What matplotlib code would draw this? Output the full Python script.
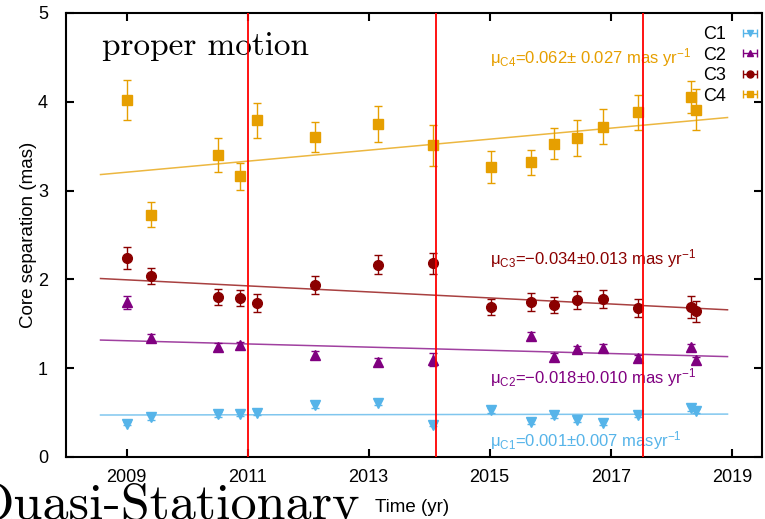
import numpy as np
import matplotlib
matplotlib.use("Agg")
import matplotlib.pyplot as plt
from matplotlib.legend_handler import HandlerErrorbar
from matplotlib.container import ErrorbarContainer

plt.rcParams['font.family'] = 'Liberation Sans'
plt.rcParams['mathtext.default'] = 'regular'

# observing epochs (yr)
epochs = [2009.01, 2009.41, 2010.51, 2010.87, 2011.15, 2012.11, 2013.15, 2014.07,
          2015.03, 2015.69, 2016.06, 2016.45, 2016.88, 2017.45, 2018.32, 2018.41]
c2_epochs = [2009.01, 2009.41, 2010.51, 2010.87, 2012.11, 2013.15, 2014.07,
             2015.69, 2016.06, 2016.45, 2016.88, 2017.45, 2018.32, 2018.41]

# core separations (mas) and errors
c1 = [0.375, 0.447, 0.48, 0.488, 0.495, 0.58, 0.61, 0.364,
      0.525, 0.394, 0.469, 0.417, 0.386, 0.469, 0.548, 0.52]
c1_err = [0.02, 0.03, 0.025, 0.025, 0.025, 0.03, 0.03, 0.02,
          0.025, 0.025, 0.025, 0.025, 0.025, 0.02, 0.025, 0.025]
c2 = [1.74, 1.337, 1.242, 1.258, 1.149, 1.07, 1.096,
      1.366, 1.13, 1.213, 1.23, 1.115, 1.235, 1.089]
c2_err = [0.07, 0.045, 0.045, 0.04, 0.04, 0.05, 0.07,
          0.045, 0.04, 0.04, 0.04, 0.03, 0.04, 0.04]
c3 = [2.24, 2.035, 1.805, 1.79, 1.73, 1.94, 2.165, 2.18,
      1.685, 1.745, 1.715, 1.768, 1.776, 1.68, 1.69, 1.64]
c3_err = [0.12, 0.09, 0.09, 0.09, 0.1, 0.1, 0.11, 0.12,
          0.09, 0.1, 0.09, 0.1, 0.1, 0.1, 0.12, 0.12]
c4 = [4.02, 2.73, 3.40, 3.16, 3.79, 3.60, 3.75, 3.51,
      3.27, 3.32, 3.53, 3.59, 3.72, 3.88, 4.05, 3.91]
c4_err = [0.23, 0.14, 0.19, 0.15, 0.2, 0.17, 0.2, 0.23,
          0.18, 0.14, 0.18, 0.2, 0.2, 0.2, 0.18, 0.23]

# linear proper-motion fits: slope (mas/yr), error, value at 2014.0
pm_slope = [0.001, -0.018, -0.034, 0.062]
pm_err = [0.007, 0.010, 0.013, 0.027]
pm_mid = [0.478, 1.219, 1.825, 3.517]
fit_range = [2008.57, 2018.93]

# epochs of the red markers
red_lines = [2011.01, 2014.12, 2017.53]

names = ["C1", "C2", "C3", "C4"]
colors = ["#56B4E9", "#800080", "#8B0000", "#E69F00"]
markers = ["v", "^", "o", "s"]
msizes = [6.5, 6.5, 7, 7]

fig = plt.figure(figsize=(7.65, 5.19), dpi=100)
ax = fig.add_axes([0.0863, 0.1195, 0.9098, 0.8555])

xs = [epochs, c2_epochs, epochs, epochs]
ys = [c1, c2, c3, c4]
es = [c1_err, c2_err, c3_err, c4_err]
for i in range(4):
    ax.errorbar(xs[i], ys[i], yerr=es[i], fmt=markers[i], color=colors[i], ms=msizes[i],
                ecolor=colors[i], elinewidth=1, capsize=3, capthick=1, zorder=3)
    t = np.array(fit_range)
    ax.plot(t, pm_mid[i] + pm_slope[i]*(t - 2014.0), '-', color=colors[i], lw=1.1,
            alpha=0.75, zorder=2)

for x in red_lines:
    ax.axvline(x, color='red', lw=1.3, zorder=4)

# proper motion labels
lab_y = [0.116, 0.83, 2.17, 4.437]
lab_txt = [r'μ$_{C1}$=0.001±0.007 masyr$^{-1}$',
           r'μ$_{C2}$=−0.018±0.010 mas yr$^{-1}$',
           r'μ$_{C3}$=−0.034±0.013 mas yr$^{-1}$',
           r'μ$_{C4}$=0.062± 0.027 mas yr$^{-1}$']
for i in range(4):
    ax.text(2015.0, lab_y[i], lab_txt[i], color=colors[i], fontsize=12, va='baseline', zorder=3)

ax.text(0.0513, 0.905, 'proper motion', transform=ax.transAxes, family='cmr10',
        fontsize=24, va='baseline')
fig.text(-0.035, 0.001, 'Quasi-Stationary', family='cmr10', fontsize=37.5, va='baseline')

# legend with horizontal error-bar symbols
handles = []
for i in range(4):
    h = ax.errorbar([np.nan], [np.nan], xerr=[0.1], fmt=markers[i], color=colors[i],
                    ms=5, elinewidth=1, capsize=3, capthick=1)
    handles.append(h)
ax.legend(handles, names, loc='upper right', bbox_to_anchor=(1.006, 0.987), markerfirst=False,
          frameon=False, fontsize=13, labelspacing=0.2, handlelength=1.0, handletextpad=0.8,
          borderaxespad=0.0, handler_map={ErrorbarContainer: HandlerErrorbar(xerr_size=0.4)})

ax.set_xlim(2008.0, 2019.5)
ax.set_ylim(0, 5)
ax.set_xticks([2009, 2011, 2013, 2015, 2017, 2019])
ax.set_yticks([0, 1, 2, 3, 4, 5])
ax.ticklabel_format(useOffset=False)
ax.tick_params(direction='in', length=6, width=1.5, top=True, right=True, labelsize=13)
ax.tick_params(axis='x', pad=9)
ax.tick_params(axis='y', pad=13)
for s in ax.spines.values():
    s.set_linewidth(1.5)

ax.set_xlabel('Time (yr)', fontsize=13.5)
ax.set_ylabel('Core separation (mas)', fontsize=13.5)
ax.xaxis.set_label_coords(0.497, -0.094)
ax.yaxis.set_label_coords(-0.042, 0.5)

fig.savefig('out.png', dpi=100)
